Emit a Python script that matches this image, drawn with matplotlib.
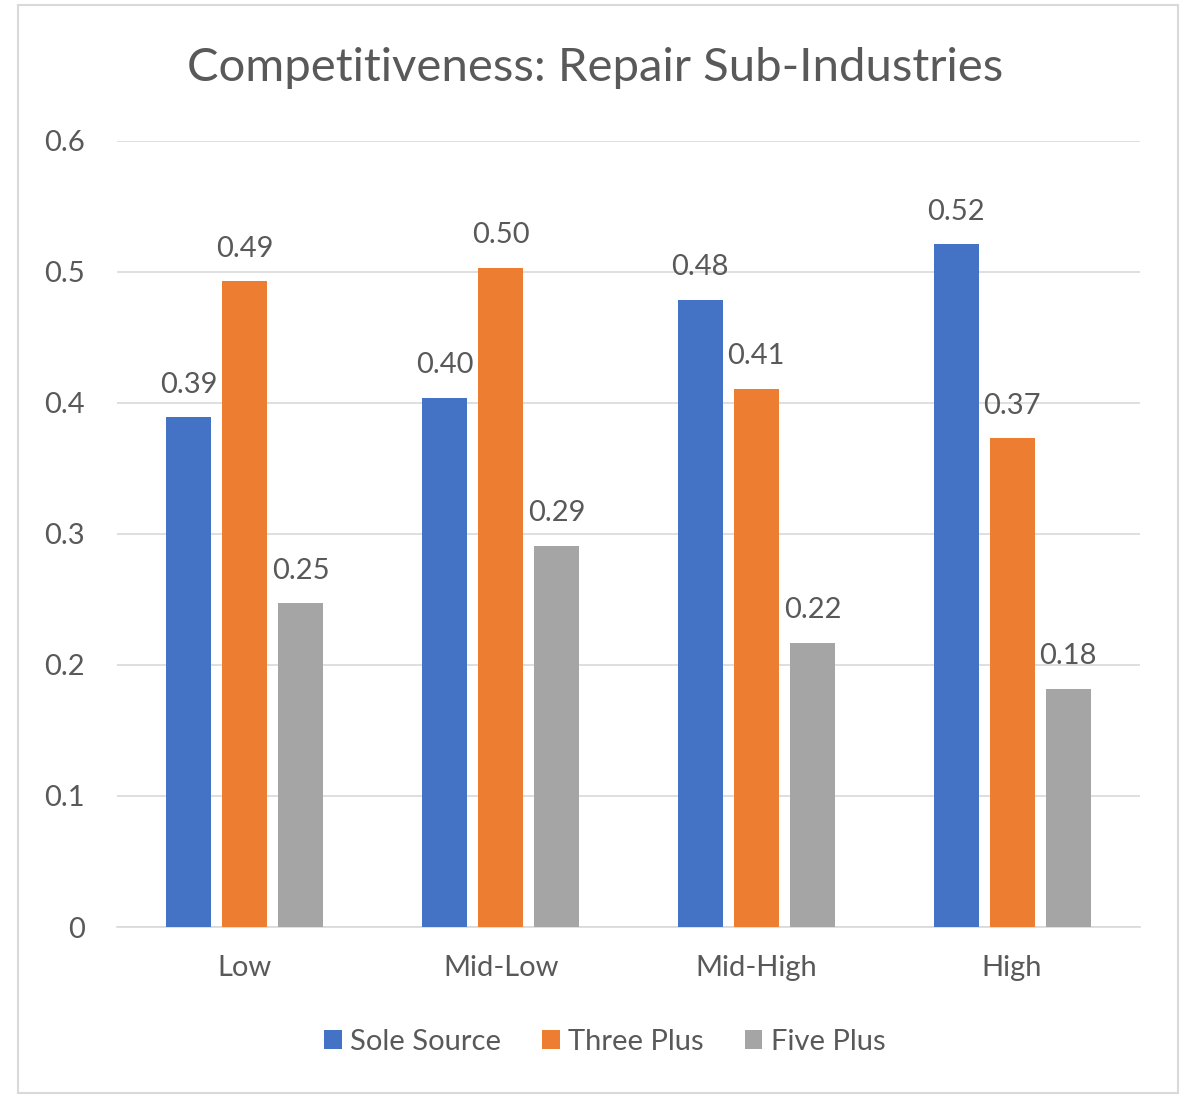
import matplotlib
matplotlib.use("Agg")
import matplotlib.pyplot as plt
from matplotlib.patches import Rectangle
import numpy as np

categories = ["Low", "Mid-Low", "Mid-High", "High"]
series_names = ["Sole Source", "Three Plus", "Five Plus"]
sole_source = [0.389, 0.404, 0.479, 0.521]
three_plus = [0.493, 0.503, 0.411, 0.373]
five_plus = [0.247, 0.291, 0.217, 0.182]
y_ticks = [0, 0.1, 0.2, 0.3, 0.4, 0.5, 0.6]
y_tick_labels = ["0", "0.1", "0.2", "0.3", "0.4", "0.5", "0.6"]

colors = ["#4472C4", "#ED7D31", "#A5A5A5"]
text_color = "#595959"
plt.rcParams["font.family"] = ["Lato", "DejaVu Sans"]

fig = plt.figure(figsize=(11.91, 10.95), dpi=100)
fig.patch.set_facecolor("white")
fig.add_artist(Rectangle((18 / 1191, 1 - 1093 / 1095), 1160 / 1191, 1088 / 1095,
                         transform=fig.transFigure, fill=False,
                         edgecolor="#d9d9d9", linewidth=1.5))

ax = fig.add_axes([117 / 1191, 1 - 927 / 1095, 1023 / 1191, 786 / 1095])
x = np.arange(len(categories))
width = 0.176
step = 0.219
for i, (vals, name) in enumerate(zip([sole_source, three_plus, five_plus], series_names)):
    pos = x + (i - 1) * step
    bars = ax.bar(pos, vals, width=width, color=colors[i], label=name, zorder=3)
    for b, v in zip(bars, vals):
        ax.text(b.get_x() + b.get_width() / 2, v + 0.015, f"{v:.2f}",
                ha="center", va="bottom", fontsize=21, color=text_color)

ax.set_xlim(-0.5, 3.5)
ax.set_ylim(0, 0.6)
ax.set_yticks(y_ticks)
ax.set_yticklabels(y_tick_labels)
ax.set_xticks(x)
ax.set_xticklabels(categories)
ax.tick_params(axis="both", length=0, labelsize=21, colors=text_color)
ax.tick_params(axis="y", pad=23)
ax.tick_params(axis="x", pad=20)
ax.grid(axis="y", color="#d9d9d9", linewidth=1.2, zorder=0)
for s in ["top", "right", "left"]:
    ax.spines[s].set_visible(False)
ax.spines["bottom"].set_color("#d9d9d9")
ax.spines["bottom"].set_linewidth(1.2)

fig.text(0.5, 1 - 68 / 1095, "Competitiveness: Repair Sub-Industries",
         ha="center", va="center", fontsize=34, color=text_color)

leg = fig.legend(loc="center", bbox_to_anchor=(605 / 1191, 1 - 1042 / 1095), ncol=3,
                 frameon=False, fontsize=21, handlelength=0.6, handleheight=0.6,
                 handletextpad=0.3, columnspacing=1.4)
for t in leg.get_texts():
    t.set_color(text_color)

fig.savefig("out.png", dpi=100, facecolor="white")
